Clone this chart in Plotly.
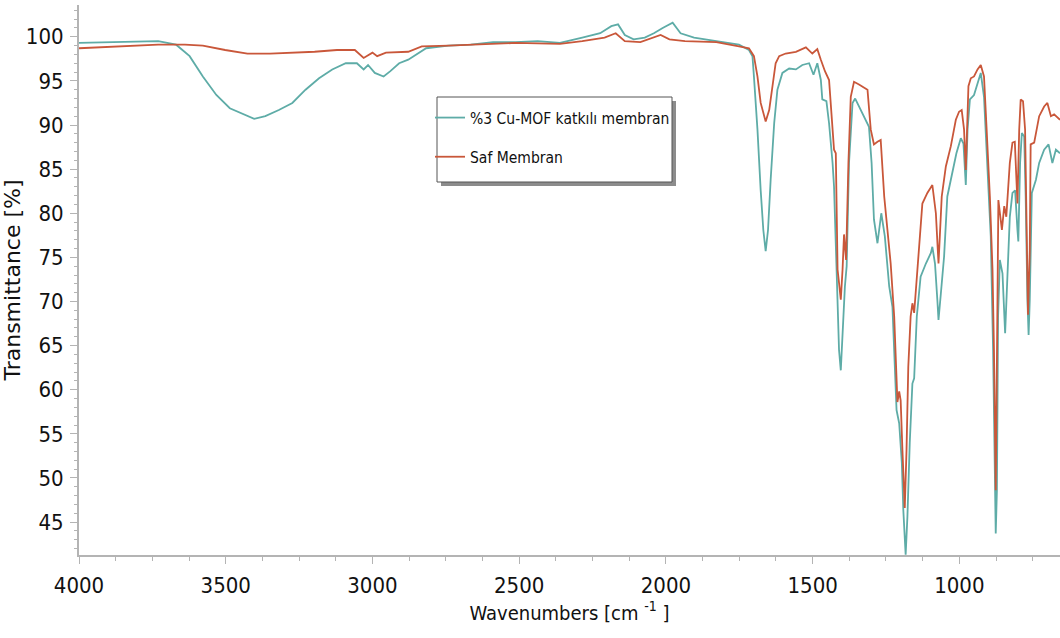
import plotly.graph_objects as go

# %3 Cu-MOF katkılı membran (teal)
wn_cumof = [4000, 3880, 3730, 3669, 3623, 3578, 3532, 3486, 3441, 3403, 3365, 3319, 3273, 3228, 3182,
            3137, 3091, 3053, 3030, 3015, 2992, 2962, 2939, 2909, 2878, 2848, 2817, 2741, 2665, 2589,
            2513, 2437, 2361, 2285, 2224, 2186, 2163, 2140, 2110, 2072, 2041, 2011, 1977, 1950, 1904,
            1828, 1751, 1717, 1705, 1700, 1688, 1677, 1668, 1660, 1652, 1643, 1631, 1620, 1603, 1580,
            1557, 1535, 1512, 1497, 1484, 1472, 1467, 1453, 1444, 1432, 1427, 1419, 1410, 1404, 1398,
            1390, 1384, 1376, 1364, 1355, 1342, 1325, 1308, 1299, 1291, 1279, 1266, 1254, 1245, 1239,
            1228, 1220, 1214, 1205, 1196, 1191, 1183, 1177, 1169, 1160, 1154, 1145, 1132, 1114, 1097,
            1092, 1083, 1075, 1071, 1063, 1052, 1041, 1024, 1010, 995, 986, 978, 972, 964, 950,
            938, 927, 916, 904, 893, 885, 878, 876, 872, 868, 862, 853, 844, 836, 828,
            819, 810, 802, 799, 793, 787, 779, 774, 768, 764, 760, 753, 739, 728, 711,
            696, 683, 671, 657]
t_cumof = [99.3, 99.4, 99.5, 99.1, 97.8, 95.5, 93.4, 91.9, 91.2, 90.7, 91.0, 91.7, 92.5, 94.0, 95.3,
           96.3, 97.0, 97.0, 96.3, 96.8, 95.9, 95.5, 96.1, 97.0, 97.4, 98.0, 98.7, 99.0, 99.1, 99.4,
           99.4, 99.5, 99.3, 99.9, 100.4, 101.2, 101.4, 100.2, 99.7, 99.9, 100.4, 101.0, 101.6, 100.4, 99.9,
           99.5, 99.1, 98.5, 97.8, 95.5, 89.5, 82.6, 78.1, 75.7, 78.1, 83.8, 90.2, 94.0, 95.9, 96.4,
           96.3, 96.8, 97.0, 95.7, 97.0, 95.1, 92.9, 92.7, 90.2, 85.7, 83.0, 74.3, 64.5, 62.2, 66.4,
           71.7, 74.0, 85.7, 92.5, 93.0, 92.1, 91.0, 89.8, 85.7, 79.3, 76.6, 80.0, 77.4, 74.3, 71.7,
           69.4, 63.4, 57.7, 56.2, 51.7, 46.4, 41.3, 45.6, 54.0, 60.7, 61.3, 68.3, 72.8, 74.3, 75.5,
           76.2, 74.3, 70.2, 67.9, 70.9, 75.1, 81.9, 84.5, 86.8, 88.5, 87.9, 83.2, 89.5, 92.9, 93.4,
           94.7, 95.9, 93.2, 85.7, 77.4, 64.5, 47.1, 43.7, 48.6, 68.3, 74.7, 73.2, 66.4, 72.8, 79.6,
           82.3, 82.6, 78.1, 76.8, 85.7, 89.1, 88.7, 81.9, 70.2, 66.2, 70.2, 82.3, 83.8, 85.7, 87.2,
           87.8, 85.7, 87.2, 86.8]

# Saf Membran (red)
wn_saf = [4000, 3880, 3730, 3639, 3578, 3502, 3426, 3349, 3273, 3197, 3121, 3060, 3030, 3000, 2984,
          2954, 2878, 2832, 2741, 2513, 2361, 2285, 2209, 2171, 2140, 2087, 2018, 1988, 1935, 1828,
          1751, 1717, 1700, 1688, 1677, 1660, 1648, 1637, 1626, 1614, 1592, 1557, 1523, 1501, 1484,
          1472, 1458, 1444, 1433, 1427, 1421, 1415, 1410, 1404, 1398, 1393, 1386, 1378, 1370, 1359,
          1342, 1325, 1313, 1302, 1291, 1279, 1268, 1256, 1245, 1234, 1222, 1217, 1211, 1205, 1200,
          1194, 1186, 1180, 1174, 1166, 1160, 1154, 1143, 1134, 1126, 1109, 1092, 1080, 1071, 1060,
          1046, 1029, 1012, 1001, 992, 984, 978, 969, 961, 950, 938, 927, 916, 907, 896,
          887, 882, 876, 871, 867, 855, 847, 840, 828, 819, 811, 802, 796, 791, 783,
          776, 771, 766, 760, 757, 745, 728, 711, 700, 688, 677, 657]
t_saf = [98.7, 98.9, 99.1, 99.1, 99.0, 98.5, 98.1, 98.1, 98.2, 98.3, 98.5, 98.5, 97.6, 98.2, 97.8,
         98.2, 98.3, 98.9, 99.0, 99.3, 99.2, 99.5, 99.9, 100.4, 99.5, 99.4, 100.2, 99.7, 99.5, 99.4,
         98.9, 98.7, 97.8, 95.5, 92.5, 90.4, 91.7, 94.7, 97.0, 97.8, 98.1, 98.3, 98.8, 98.1, 98.6,
         97.4, 96.1, 95.1, 89.5, 87.2, 86.8, 73.6, 72.1, 70.2, 73.6, 77.6, 74.7, 85.7, 93.2, 94.9,
         94.6, 94.2, 94.0, 89.5, 87.8, 88.1, 88.3, 81.9, 78.1, 74.3, 68.3, 63.4, 58.6, 59.8, 58.8,
         53.2, 46.6, 53.2, 62.6, 68.3, 69.8, 68.7, 73.6, 78.1, 81.1, 82.3, 83.2, 80.0, 74.3, 81.9,
         85.3, 87.6, 90.6, 91.5, 91.7, 89.5, 84.9, 94.4, 95.3, 95.5, 96.3, 96.8, 95.5, 89.5, 81.9,
         73.6, 64.5, 48.6, 64.5, 81.5, 78.1, 80.8, 79.6, 85.7, 88.0, 88.1, 81.1, 89.5, 92.9, 92.7,
         89.5, 78.1, 68.5, 75.8, 87.8, 88.0, 91.0, 92.1, 92.5, 91.0, 91.2, 90.6]

series_names = ["%3 Cu-MOF katkılı membran", "Saf Membran"]
colors = ["#5eaca7", "#c9573a"]
y_ticks = [45, 50, 55, 60, 65, 70, 75, 80, 85, 90, 95, 100]
x_ticks = [4000, 3500, 3000, 2500, 2000, 1500, 1000]

NARROW = "DejaVu Sans Condensed, sans-serif"
WIDE = "DejaVu Sans, Verdana, sans-serif"

fig = go.Figure()
for i, (xs, ys) in enumerate([(wn_cumof, t_cumof), (wn_saf, t_saf)]):
    fig.add_trace(go.Scatter(x=xs, y=ys, mode="lines", name=series_names[i],
                             legendgroup=f"g{i}",
                             line=dict(color=colors[i], width=1.8)))

L, B, T = 79, 83, 5
W, H = 1060, 638
pw, ph = W - L, H - T - B

def px(x):
    return (x - L) / pw

def py(y):
    return (H - B - y) / ph

# legend box with shadow
fig.add_shape(type="rect", xref="paper", yref="paper",
              x0=px(441), x1=px(676), y0=py(186), y1=py(101),
              fillcolor="#8c8c8c", line=dict(width=0), layer="above")
fig.add_shape(type="rect", xref="paper", yref="paper",
              x0=px(437), x1=px(672), y0=py(182), y1=py(97),
              fillcolor="white", line=dict(color="#555555", width=1), layer="above")

axis_common = dict(showgrid=False, zeroline=False, showline=True, linecolor="#b4b4b4",
                   linewidth=2, ticks="outside", tickcolor="#b4b4b4", tickwidth=1,
                   tickfont=dict(family=NARROW, size=22, color="#111"), mirror=False)

fig.update_layout(
    width=W, height=H,
    margin=dict(l=L, r=0, t=T, b=B),
    paper_bgcolor="white", plot_bgcolor="white",
    font=dict(family=NARROW, size=15.5, color="#111"),
    showlegend=True,
    legend=dict(x=px(430), y=py(101), xanchor="left", yanchor="top",
                bgcolor="rgba(0,0,0,0)", borderwidth=0,
                font=dict(family=NARROW, size=15.5, color="#111"),
                itemwidth=30, tracegroupgap=16),
    xaxis=dict(range=[4000, 657], tickvals=x_ticks, ticktext=[str(v) for v in x_ticks],
               ticklen=7, ticklabelstandoff=3,
               minor=dict(dtick=125, tick0=4000, ticks="outside", ticklen=4, tickcolor="#b4b4b4"),
               title=dict(text="Wavenumbers [cm <sup>-1</sup> ]", font=dict(family=NARROW, size=20), standoff=8),
               **axis_common),
    yaxis=dict(range=[41.27, 103.6], tickvals=y_ticks, ticktext=[str(v) for v in y_ticks],
               ticklen=7, ticklabelstandoff=2,
               minor=dict(dtick=1, tick0=45, ticks="outside", ticklen=3, tickcolor="#b4b4b4"),
               title=dict(text="Transmittance [%]", font=dict(family=WIDE, size=22), standoff=8),
               **axis_common),
)

fig.write_html("out.html")
